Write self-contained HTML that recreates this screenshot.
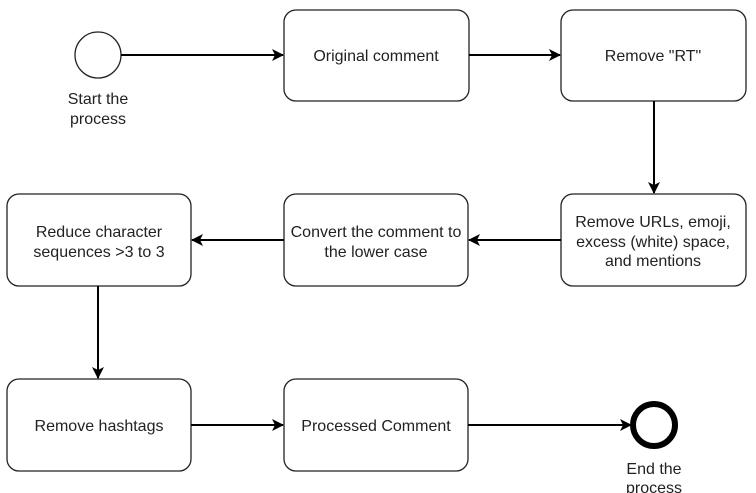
<!DOCTYPE html>
<html><head><style>
html,body{margin:0;padding:0;background:#fff;}
svg{display:block;}
text{font-family:"Liberation Sans",Arial,sans-serif;font-size:16px;fill:#222;text-anchor:middle;}
.b{fill:#fff;stroke:#222;stroke-width:1.3;}
.l{stroke:#000;stroke-width:2;fill:none;}
</style></head><body>
<svg width="756" height="493" viewBox="0 0 756 493" xmlns="http://www.w3.org/2000/svg">
<defs><marker id="a" markerWidth="12" markerHeight="12" refX="11" refY="6" orient="auto" markerUnits="userSpaceOnUse"><path d="M0,0 L12,6 L0,12 L3,6 z" fill="#000"/></marker></defs>
<circle cx="98" cy="55" r="23" class="b"/>
<text x="98" y="104">Start the</text><text x="98" y="124">process</text>
<rect x="284" y="10" width="185" height="91" rx="12" class="b"/>
<text x="376" y="61">Original comment</text>
<rect x="561" y="10" width="185" height="91" rx="12" class="b"/>
<text x="653" y="61">Remove "RT"</text>
<rect x="561" y="194" width="185" height="92" rx="12" class="b"/>
<text x="653" y="227">Remove URLs, emoji,</text><text x="653" y="247">excess (white) space,</text><text x="653" y="266">and mentions</text>
<rect x="284" y="194" width="184" height="92" rx="12" class="b"/>
<text x="376" y="237">Convert the comment to</text><text x="376" y="257">the lower case</text>
<rect x="7" y="194" width="184" height="92" rx="12" class="b"/>
<text x="99" y="237">Reduce character</text><text x="99" y="257">sequences &gt;3 to 3</text>
<rect x="7" y="379" width="184" height="92" rx="12" class="b"/>
<text x="99" y="431">Remove hashtags</text>
<rect x="284" y="379" width="184" height="92" rx="12" class="b"/>
<text x="376" y="431">Processed Comment</text>
<circle cx="654" cy="425" r="21" fill="#fff" stroke="#000" stroke-width="6"/>
<text x="654" y="474">End the</text><text x="654" y="493">process</text>
<line x1="121" y1="55" x2="283" y2="55" class="l" marker-end="url(#a)"/>
<line x1="469" y1="55" x2="560" y2="55" class="l" marker-end="url(#a)"/>
<line x1="654" y1="101" x2="654" y2="193" class="l" marker-end="url(#a)"/>
<line x1="561" y1="240" x2="469" y2="240" class="l" marker-end="url(#a)"/>
<line x1="284" y1="240" x2="192" y2="240" class="l" marker-end="url(#a)"/>
<line x1="98" y1="286" x2="98" y2="378" class="l" marker-end="url(#a)"/>
<line x1="191" y1="425" x2="283" y2="425" class="l" marker-end="url(#a)"/>
<line x1="468" y1="425" x2="631" y2="425" class="l" marker-end="url(#a)"/>
</svg>
</body></html>
